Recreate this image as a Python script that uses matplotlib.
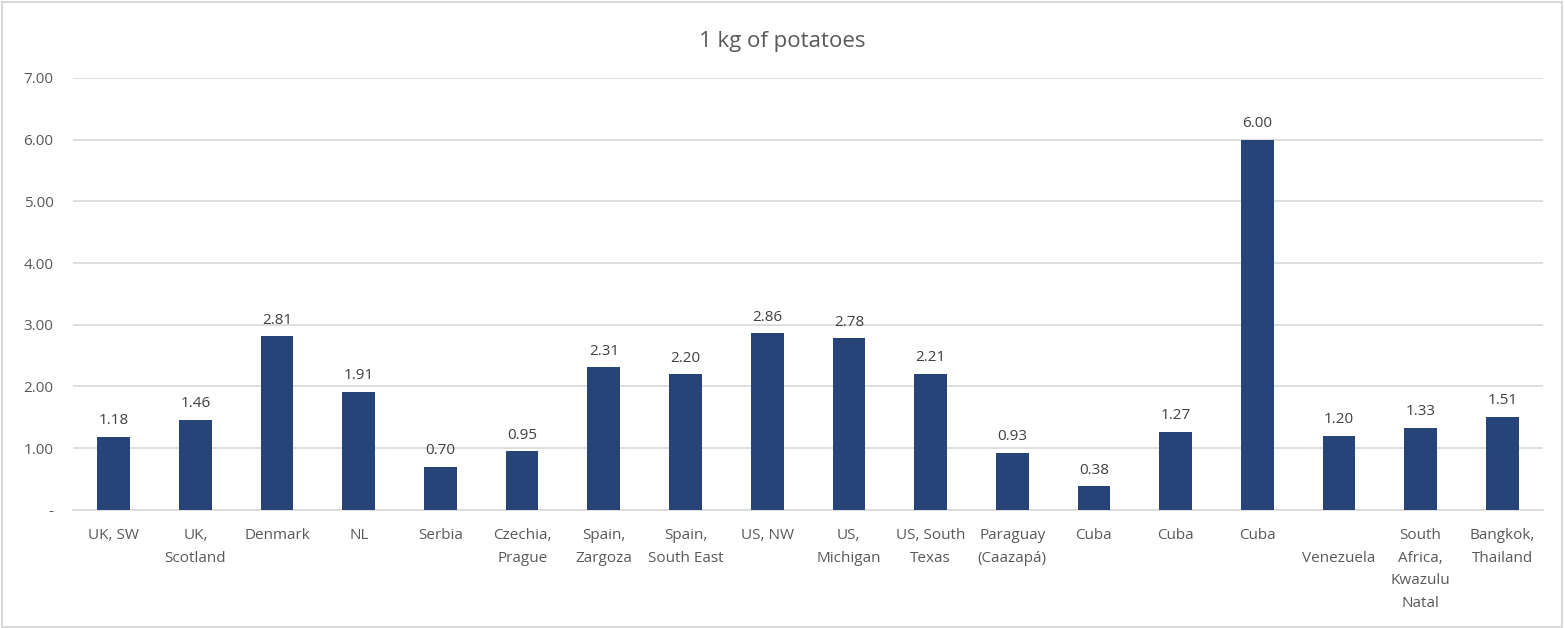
import matplotlib.pyplot as plt
from matplotlib.patches import Rectangle

# chart data
locations = ['UK, SW', 'UK,\nScotland', 'Denmark', 'NL', 'Serbia', 'Czechia,\nPrague',
             'Spain,\nZargoza', 'Spain,\nSouth East', 'US, NW', 'US,\nMichigan',
             'US, South\nTexas', 'Paraguay\n(Caazapá)', 'Cuba', 'Cuba', 'Cuba',
             '\nVenezuela', 'South\nAfrica,\nKwazulu\nNatal', 'Bangkok,\nThailand']
prices = [1.18, 1.46, 2.81, 1.91, 0.70, 0.95, 2.31, 2.20, 2.86, 2.78,
          2.21, 0.93, 0.38, 1.27, 6.00, 1.20, 1.33, 1.51]
y_ticks = [0, 1, 2, 3, 4, 5, 6, 7]
y_tick_labels = ['-', '1.00', '2.00', '3.00', '4.00', '5.00', '6.00', '7.00']

plt.rcParams['font.family'] = ['Open Sans', 'DejaVu Sans']
text_color = '#595959'
bar_color = '#264478'

fig = plt.figure(figsize=(15.65, 6.28), dpi=100)
ax = fig.add_axes([0.0466, 0.188, 0.9394, 0.688])

x = range(len(locations))
bars = ax.bar(x, prices, width=0.4, color=bar_color, zorder=3)
for xi, v in zip(x, prices):
    ax.text(xi, v + 0.14, f'{v:.2f}', ha='center', va='bottom',
            fontsize=11, color='#404040')

ax.set_xlim(-0.5, len(locations) - 0.5)
ax.set_ylim(0, 7)
ax.set_yticks(y_ticks)
ax.set_yticklabels(y_tick_labels)
ax.set_xticks(list(x))
ax.set_xticklabels(locations, linespacing=1.7)
ax.tick_params(axis='both', length=0, colors=text_color, labelsize=11)
ax.tick_params(axis='x', pad=13)
ax.tick_params(axis='y', pad=14)
ax.grid(axis='y', color='#d9d9d9', linewidth=1.2, zorder=0)
for side in ['top', 'right', 'left']:
    ax.spines[side].set_visible(False)
ax.spines['bottom'].set_color('#d9d9d9')
ax.spines['bottom'].set_linewidth(1.2)

fig.suptitle('1 kg of potatoes', y=0.95, fontsize=16, color=text_color)

# outer border
fig.patches.append(Rectangle((0.001, 0.002), 0.997, 0.995, transform=fig.transFigure,
                             fill=False, edgecolor='#d9d9d9', linewidth=1.5))

fig.savefig('out.png', dpi=100)
